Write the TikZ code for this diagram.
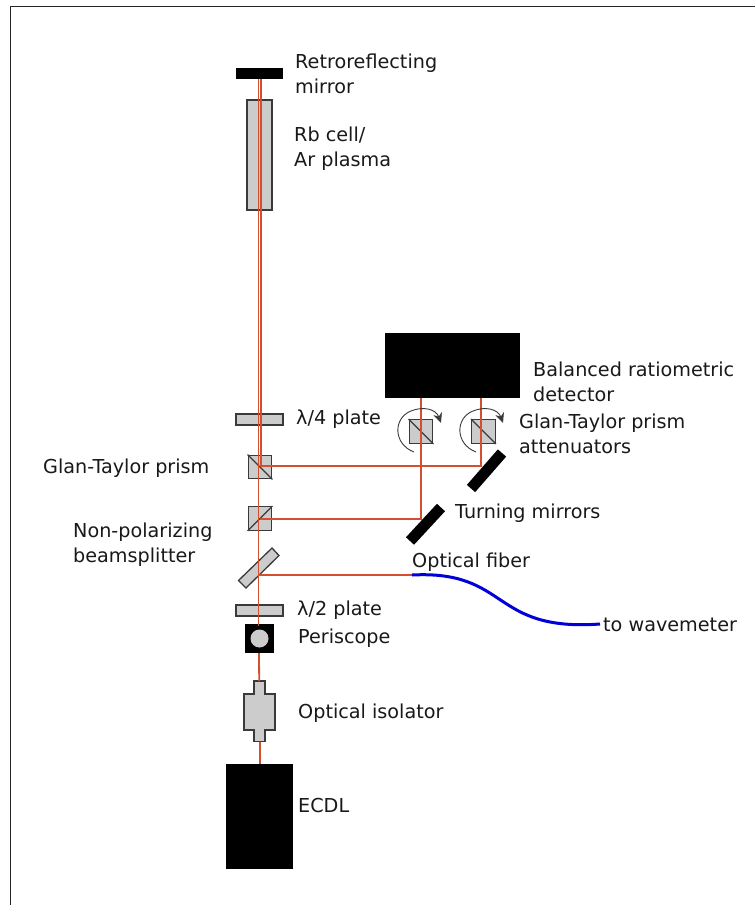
\documentclass[tikz,border=0pt]{standalone}
\usepackage{fontspec}
\setmainfont{DejaVu Sans}
\usetikzlibrary{arrows.meta}
\definecolor{beamred}{HTML}{D2502F}
\definecolor{fillgray}{HTML}{CCCCCC}
\definecolor{edgegray}{HTML}{3A3A3A}
\tikzset{
  lbl/.style={anchor=west,inner sep=0pt,align=left,font=\fontsize{19.2}{25}\selectfont,text=black!90},
  optic/.style={draw=edgegray,fill=fillgray,line width=1.3pt,inner sep=0pt},
  cube/.style={optic,minimum width=23.5pt,minimum height=23.5pt},
  plate/.style={optic,minimum width=47pt,minimum height=11pt},
  solid block/.style={fill=black,draw=none,inner sep=0pt},
  beam/.style={draw=beamred,line width=1.8pt},
  split/.style={draw=edgegray,line width=1.1pt},
  mirrorbar/.style={draw=black,line width=11pt},
  spin/.style={draw=edgegray,line width=0.9pt,-{Stealth[length=10pt,width=9pt]}},
  fiber/.style={draw=blue!85!black,line width=3pt}
}
\begin{document}
\begin{tikzpicture}[x=1pt,y=-1pt]
\useasboundingbox (0,0) rectangle (755,905);
\fill[white] (0,0) rectangle (755,905);
\coordinate (fl) at (10.5,905);
\coordinate (ft) at (10.5,6.5);
\coordinate (fr) at (755,6.5);
\draw[line width=1pt,black!85] (fl) -- (ft) -- (fr);

% elements below the beam
\node[optic,minimum width=25pt,minimum height=110pt] (cell) at (259.5,155) {};
\node[plate] (qwp) at (259.5,419.5) {};
\node[cube] (gt) at (260,467) {};
\node[cube] (npbs) at (260,518.5) {};
\draw[split] (gt.north west) -- (gt.south east);
\draw[split] (npbs.south west) -- (npbs.north east);
\node[plate] (hwp) at (259.5,610.5) {};
\draw[optic] (272,548) -- (279,555.5) -- (246,588) -- (238.5,580.5) -- cycle;
\node[cube] (pa) at (421,431.5) {};
\node[cube] (pb) at (483.5,431.5) {};
\draw[split] (pa.north west) -- (pa.south east);
\draw[split] (pb.north west) -- (pb.south east);

% isolator
\draw[optic] (254,681) -- (265,681) -- (265,694) -- (275,694) -- (275,730) -- (265,730) -- (265,741.5) -- (254,741.5) -- (254,730) -- (244,730) -- (244,694) -- (254,694) -- cycle;
\coordinate (isoT) at (259.2,681);
\coordinate (isoB) at (260.2,741.5);
\coordinate (ecdlT) at (260.2,764);

% black blocks
\node[solid block,minimum width=135pt,minimum height=65pt] (det) at (452.5,365.5) {};
\node[solid block,minimum width=67pt,minimum height=105pt] (ecdl) at (259.5,816.5) {};
\node[solid block,minimum width=47pt,minimum height=11pt] (retro) at (259.5,73.5) {};
\node[solid block,minimum width=29pt,minimum height=29pt] (peri) at (259.5,638.5) {};
\node[circle,fill=fillgray,draw=none,minimum size=18pt,inner sep=0pt] (pc) at (259.5,638.5) {};

% turning mirrors
\coordinate (m1a) at (441,507.5);
\coordinate (m1b) at (410,541);
\coordinate (m2a) at (502,453);
\coordinate (m2b) at (471,488.5);
\draw[mirrorbar] (m1a) -- (m1b);
\draw[mirrorbar] (m2a) -- (m2b);

% beams
\coordinate (r1) at (258.4,79);
\coordinate (r2) at (260.8,79);
\coordinate (b2) at (260.8,466);
\coordinate (b3) at (258.4,626);
\coordinate (periB) at (259,653);
\draw[beam] (r1) -- (b3);
\draw[beam] (r2) -- (b2);
\draw[beam] (periB) -- (isoT);
\draw[beam] (isoB) -- (ecdlT);
\coordinate (d1) at (421,398);
\coordinate (d2) at (481,398);
\coordinate (t1) at (421,519);
\coordinate (t2) at (481,466);
\coordinate (g0) at (260,466);
\coordinate (n0) at (260,519);
\coordinate (f0) at (412,575);
\coordinate (s0) at (258.4,575);
\draw[beam] (g0) -- (t2) -- (d2);
\draw[beam] (n0) -- (t1) -- (d1);
\draw[beam] (s0) -- (f0);

% fiber
\coordinate (f1) at (600,624);
\draw[fiber] (f0) .. controls (510,570) and (490,632) .. (f1);

% rotation arrows
\draw[spin] (414,452) .. controls (393,444) and (393,418) .. (411,411) .. controls (423,406) and (436,409) .. (441,423);
\draw[spin] (476,452) .. controls (455,444) and (455,418) .. (473,411) .. controls (485,406) and (498,409) .. (503,423);

% labels
\node[lbl] (t01) at (295,73.5) {Retroreflecting\\mirror};
\node[lbl] (t02) at (294,149) {Rb cell/\\Ar plasma};
\node[lbl] (t03) at (533,381.5) {Balanced ratiometric\\detector};
\node[lbl] (t04) at (296,419.5) {λ/4 plate};
\node[lbl] (t05) at (519,433.5) {Glan-Taylor prism\\attenuators};
\node[lbl] (t06) at (43,468.5) {Glan-Taylor prism};
\node[lbl] (t07) at (455,513.5) {Turning mirrors};
\node[lbl] (t08) at (73,545) {Non-polarizing\\beamsplitter};
\node[lbl] (t09) at (412,562.5) {Optical fiber};
\node[lbl] (t10) at (297,610.5) {λ/2 plate};
\node[lbl] (t11) at (298,638.5) {Periscope};
\node[lbl] (t12) at (298,713.5) {Optical isolator};
\node[lbl] (t13) at (298,805.5) {ECDL};
\node[lbl] (t14) at (603,624.5) {to wavemeter};
\end{tikzpicture}
\end{document}
